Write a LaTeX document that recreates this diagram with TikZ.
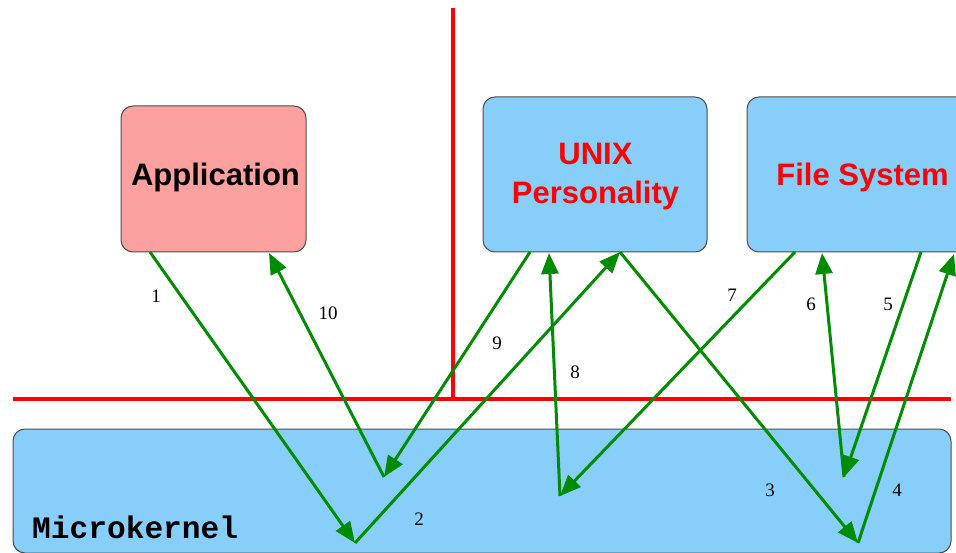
\documentclass[tikz,border=0pt]{standalone}
\usepackage{fontspec}
\setmainfont{Liberation Serif}
\setsansfont{Liberation Sans}
\setmonofont{Liberation Mono}
\usetikzlibrary{arrows.meta}
\definecolor{boxblue}{HTML}{87CEFA}
\definecolor{boxpink}{HTML}{FCA0A0}
\definecolor{arrgreen}{HTML}{008C00}
\definecolor{linered}{HTML}{FF0000}
\tikzset{
  module/.style={draw=black!70, line width=1pt, rounded corners=12pt, inner sep=0pt},
  boxtext/.style={font=\sffamily\bfseries\fontsize{31}{39}\selectfont, align=center},
  msg/.style={draw=arrgreen, line width=3pt, -{Triangle[length=21pt,width=17pt]}},
  num/.style={font=\fontsize{19}{22}\selectfont, inner sep=0pt},
  wall/.style={draw=linered, line width=4.5pt}
}
\begin{document}
\begin{tikzpicture}[x=1pt,y=-1pt]
\useasboundingbox (0,0) rectangle (956,553);
% boxes
\node[module, fill=boxblue, minimum width=938pt, minimum height=124pt] (mk) at (482,491) {};
\node[font=\ttfamily\bfseries\fontsize{31.2}{34}\selectfont, anchor=west, inner sep=0pt] (mktext) at (32,527) {Microkernel};
\node[module, fill=boxpink, minimum width=185pt, minimum height=146pt] (app) at (213.5,179) {};
\node[boxtext, text=black] (apptext) at (215.5,177) {Application};
\node[module, fill=boxblue, minimum width=224pt, minimum height=155pt] (unix) at (595,174.5) {};
\node[boxtext, text=linered] (unixtext) at (595.5,177) {UNIX\\Personality};
\node[module, fill=boxblue, minimum width=230pt, minimum height=155pt] (fs) at (862,174.5) {};
\node[boxtext, text=linered] (fstext) at (862.5,177) {File System};
% walls
\coordinate (vtop) at (453,8);
\coordinate (vbot) at (453,399);
\coordinate (hl) at (13,399);
\coordinate (hr) at (951,399);
\draw[wall] (vtop) -- (vbot);
\draw[wall] (hl) -- (hr);
% endpoints
\coordinate (a1) at (150,252);
\coordinate (k1) at (355,543);
\coordinate (u2) at (620,252);
\coordinate (k3) at (858,543);
\coordinate (f4) at (954,254);
\coordinate (f5) at (921,252);
\coordinate (k5) at (844,477);
\coordinate (f6) at (822,253);
\coordinate (f7) at (795,252);
\coordinate (k7) at (560,496);
\coordinate (u8) at (549,253);
\coordinate (u9) at (530,252);
\coordinate (k9) at (384,477);
\coordinate (a10) at (269,253);
% arrows
\draw[msg] (a1) -- (k1);
\draw[msg] (k1) -- (u2);
\draw[msg] (u2) -- (k3);
\draw[msg] (k3) -- (f4);
\draw[msg] (f5) -- (k5);
\draw[msg] (k5) -- (f6);
\draw[msg] (f7) -- (k7);
\draw[msg] (k7) -- (u8);
\draw[msg] (u9) -- (k9);
\draw[msg] (k9) -- (a10);
% labels
\node[num] (n1) at (156,296) {1};
\node[num] (n2) at (419,519) {2};
\node[num] (n3) at (770,490) {3};
\node[num] (n4) at (897,490) {4};
\node[num] (n5) at (888,304) {5};
\node[num] (n6) at (811,304) {6};
\node[num] (n7) at (732,295) {7};
\node[num] (n8) at (575,372) {8};
\node[num] (n9) at (497,343) {9};
\node[num] (n10) at (328,313) {10};
\end{tikzpicture}
\end{document}
